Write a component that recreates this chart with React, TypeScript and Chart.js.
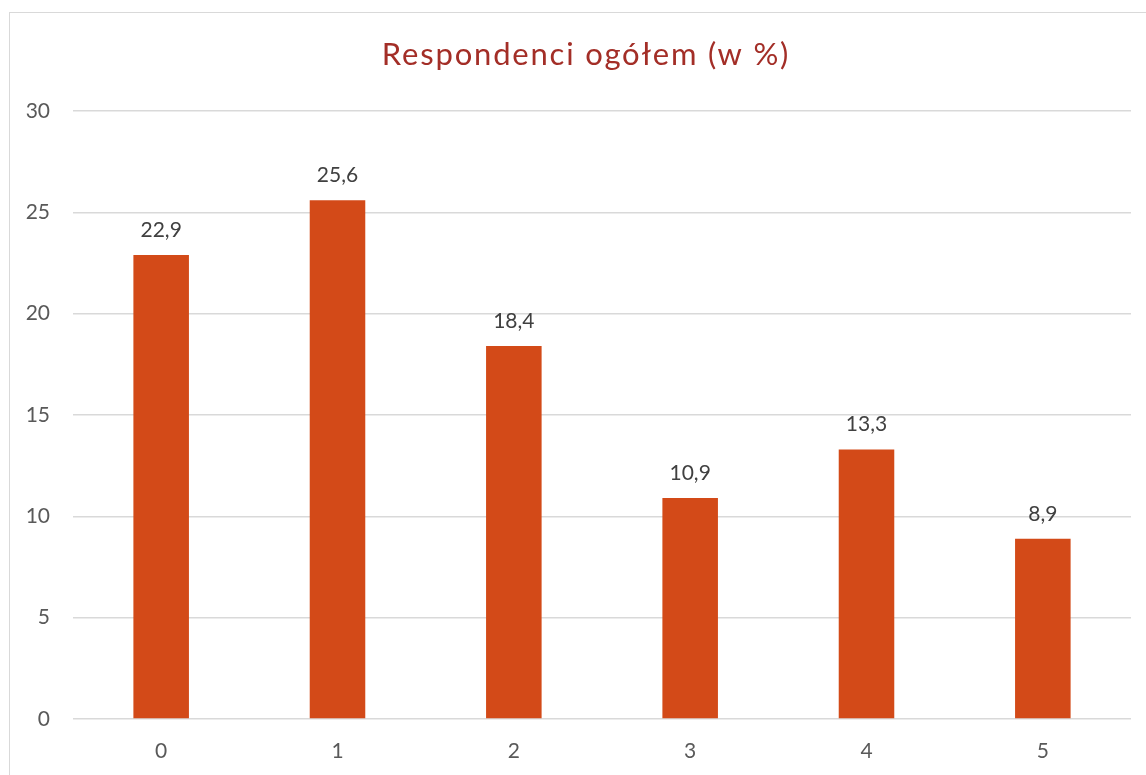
import React, { useEffect, useRef } from "react";
import { Chart, registerables } from "chart.js";

Chart.register(...registerables);

const categories: string[] = ["0", "1", "2", "3", "4", "5"];
const values: number[] = [22.9, 25.6, 18.4, 10.9, 13.3, 8.9];
const yTicks: number[] = [0, 5, 10, 15, 20, 25, 30];
const titleText = "Respondenci ogółem (w %)";

const FONT = "Lato, 'Open Sans', sans-serif";

export default function App() {
  const ref = useRef<HTMLCanvasElement | null>(null);

  useEffect(() => {
    const canvas = ref.current;
    if (!canvas) return;

    const titlePlugin = {
      id: "fixedTitle",
      afterDraw(chart: any) {
        const ctx = chart.ctx;
        ctx.save();
        ctx.font = `31px ${FONT}`;
        try {
          (ctx as any).letterSpacing = "1.8px";
        } catch (e) {}
        ctx.fillStyle = "#A32E27";
        ctx.textAlign = "center";
        ctx.textBaseline = "alphabetic";
        ctx.fillText(titleText, 586, 65);
        ctx.restore();
      },
    };

    const labelPlugin = {
      id: "valueLabels",
      afterDatasetsDraw(chart: any) {
        const ctx = chart.ctx;
        const meta = chart.getDatasetMeta(0);
        ctx.save();
        ctx.font = `21px ${FONT}`;
        ctx.fillStyle = "#404040";
        ctx.textAlign = "center";
        ctx.textBaseline = "alphabetic";
        meta.data.forEach((bar: any, i: number) => {
          const v = values[i];
          ctx.fillText(v.toFixed(1).replace(".", ","), bar.x, bar.y - 18);
        });
        ctx.restore();
      },
    };

    const chart = new Chart(canvas, {
      type: "bar",
      data: {
        labels: categories,
        datasets: [
          {
            data: values,
            backgroundColor: "#D34A18",
            borderWidth: 0,
            categoryPercentage: 1,
            barPercentage: 0.315,
          },
        ],
      },
      options: {
        animation: false,
        responsive: false,
        maintainAspectRatio: false,
        layout: { padding: { top: 111, right: 15, left: 0, bottom: 0 } },
        plugins: {
          legend: { display: false },
          title: { display: false },
          tooltip: { enabled: false },
        },
        scales: {
          x: {
            grid: { display: false, drawTicks: false },
            border: { display: false },
            ticks: {
              color: "#595959",
              font: { family: FONT, size: 21 },
              padding: 20,
            },
            afterFit(axis: any) {
              axis.height = 56;
            },
          },
          y: {
            min: 0,
            max: 30,
            afterBuildTicks(axis: any) {
              axis.ticks = yTicks.map((v) => ({ value: v }));
            },
            grid: { color: "#D9D9D9", lineWidth: 1.5, drawTicks: false },
            border: { display: false },
            ticks: {
              color: "#595959",
              font: { family: FONT, size: 21 },
              padding: 23,
            },
            afterFit(axis: any) {
              axis.width = 73;
            },
          },
        },
      },
      plugins: [titlePlugin, labelPlugin],
    });

    return () => chart.destroy();
  }, []);

  return (
    <div
      style={{
        position: "fixed",
        left: 0,
        top: 0,
        width: 1146,
        height: 775,
        overflow: "hidden",
        background: "#ffffff",
      }}
    >
      <div
        style={{
          position: "absolute",
          left: 9,
          top: 12,
          width: 1200,
          height: 800,
          border: "1.5px solid #D9D9D9",
          boxSizing: "border-box",
        }}
      />
      <canvas
        ref={ref}
        width={1146}
        height={775}
        style={{ position: "absolute", left: 0, top: 0, width: 1146, height: 775 }}
      />
    </div>
  );
}
